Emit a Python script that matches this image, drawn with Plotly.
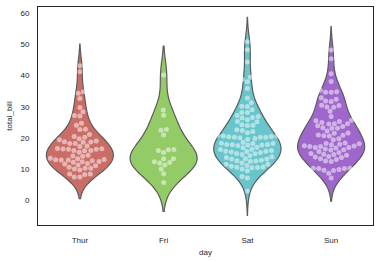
import colorsys
import numpy as np
import plotly.graph_objects as go

days = ["Thur", "Fri", "Sat", "Sun"]

thur = [27.20, 22.76, 17.29, 19.44, 16.66, 10.07, 32.68, 15.98, 34.83, 13.03, 18.28, 24.71, 21.16,
        10.65, 12.43, 24.08, 11.69, 13.42, 14.26, 15.95, 12.48, 29.80, 8.52, 14.52, 11.38, 22.82,
        19.08, 20.27, 11.17, 12.26, 18.26, 8.51, 10.33, 14.15, 16.00, 13.16, 17.47, 34.30, 41.19,
        27.05, 16.43, 8.35, 18.64, 11.87, 9.78, 7.51, 19.81, 28.44, 15.48, 16.58, 7.56, 10.34,
        43.11, 13.00, 13.51, 18.71, 12.74, 13.00, 16.40, 20.53, 16.47, 18.78]
fri = [28.97, 22.49, 5.75, 16.32, 22.75, 40.17, 27.28, 12.03, 21.01, 12.46, 11.35, 15.38,
       12.16, 13.42, 8.58, 15.98, 13.42, 16.27, 10.09]
sat = [20.65, 17.92, 20.29, 15.77, 39.42, 19.82, 17.81, 13.37, 12.69, 21.70, 19.65, 9.55, 18.35,
       15.06, 20.69, 17.78, 24.06, 16.31, 16.93, 18.69, 31.27, 16.04, 38.01, 26.41, 11.24, 48.27,
       20.29, 13.81, 11.02, 18.29, 17.59, 20.08, 16.45, 3.07, 20.23, 15.01, 12.02, 17.07, 26.86,
       25.28, 14.73, 10.51, 17.92, 44.30, 22.42, 20.92, 15.36, 20.49, 25.21, 18.24, 14.31, 14.00,
       7.25, 10.59, 10.63, 50.81, 15.81, 26.59, 38.73, 24.27, 12.76, 30.06, 25.89, 48.33, 13.27,
       28.17, 12.90, 28.15, 11.59, 7.74, 30.14, 20.45, 13.28, 22.12, 24.01, 15.69, 11.61, 10.77,
       15.53, 10.07, 12.60, 32.83, 35.83, 29.03, 27.18, 22.67, 17.82]
sun = [16.99, 10.34, 21.01, 23.68, 24.59, 25.29, 8.77, 26.88, 15.04, 14.78, 10.27, 35.26, 15.42,
       18.43, 14.83, 21.58, 10.33, 16.29, 16.97, 17.46, 13.94, 9.68, 30.40, 18.29, 22.23, 32.40,
       28.55, 18.04, 12.54, 10.29, 34.81, 9.94, 25.56, 19.49, 38.07, 23.95, 25.71, 17.31, 29.93,
       14.07, 13.13, 17.26, 24.55, 19.77, 29.85, 48.17, 25.00, 13.39, 16.49, 21.50, 12.66, 16.21,
       13.81, 17.51, 24.52, 20.76, 31.71, 7.25, 31.85, 16.82, 32.90, 17.89, 14.48, 9.60, 34.63,
       34.65, 23.33, 45.35, 23.17, 40.55, 20.69, 20.90, 30.46, 18.15, 23.10, 15.69]
series = [thur, fri, sat, sun]

y_ticks = [0, 10, 20, 30, 40, 50, 60]
Y_RANGE = [-7.8, 61.9]
X_RANGE = [-0.5, 3.5]

W, H = 380, 262
ML, MR, MT, MB = 38, 7, 7, 37
pw, ph = W - ML - MR, H - MT - MB
px_x = pw / (X_RANGE[1] - X_RANGE[0])
px_y = ph / (Y_RANGE[1] - Y_RANGE[0])


def hls_colors(n, h=0.01, l=0.6, s=0.65, sat=0.75):
    hues = (np.linspace(0, 1, n + 1)[:-1] + h) % 1
    out = []
    for hu in hues:
        r, g, b = colorsys.hls_to_rgb(hu, l, s * sat)
        out.append("rgb(%d,%d,%d)" % (round(r * 255), round(g * 255), round(b * 255)))
    return out


colors = hls_colors(4)


def beeswarm(vals, center, d):
    # pixel-space swarm
    ys = np.sort(np.asarray(vals)) * px_y
    swarm = []
    for y in ys:
        neigh = [(sx, sy) for sx, sy in swarm if abs(y - sy) < d]
        cands = [(center, y)]
        left_first = True
        for nx, ny in neigh:
            dy = y - ny
            dx = np.sqrt(max(d * d - dy * dy, 0)) * 1.05
            cl, cr = (nx - dx, y), (nx + dx, y)
            cands.extend([cl, cr] if left_first else [cr, cl])
            left_first = not left_first
        cands.sort(key=lambda c: abs(c[0] - center))
        chosen = cands[-1]
        for c in cands:
            ok = all((c[0] - nx) ** 2 + (c[1] - ny) ** 2 >= d * d * 0.999 for nx, ny in neigh)
            if ok:
                chosen = c
                break
        swarm.append(chosen)
    return [s[0] for s in swarm], [s[1] / px_y for s in swarm]


fig = go.Figure()
for i, (day, vals) in enumerate(zip(days, series)):
    v = np.asarray(vals)
    bw = v.std(ddof=1) * len(v) ** (-0.2)
    fig.add_trace(go.Violin(
        y=vals, x0=i, name=day, width=0.8, bandwidth=bw, spanmode="soft",
        scalegroup="all", scalemode="width", points=False,
        fillcolor=colors[i], opacity=1, line=dict(color="#5c5c5c", width=1.2),
        hoverinfo="skip", showlegend=False,
    ))

for i, vals in enumerate(series):
    sx, sy = beeswarm(vals, i * px_x, 5.3)
    fig.add_trace(go.Scatter(
        x=[x / px_x for x in sx], y=sy, mode="markers",
        marker=dict(color="rgba(255,255,255,0.5)", size=5, line=dict(width=0)),
        showlegend=False, hoverinfo="skip",
    ))

font = dict(family="Liberation Sans, Arial, sans-serif", size=8, color="#262626")
fig.update_layout(
    width=W, height=H, margin=dict(l=ML, r=MR, t=MT, b=MB),
    paper_bgcolor="white", plot_bgcolor="white", font=font,
    violinmode="overlay", showlegend=False,
    xaxis=dict(range=X_RANGE, tickvals=[0, 1, 2, 3], ticktext=days, showgrid=False,
               zeroline=False, showline=True, mirror=True, linecolor="#262626", linewidth=1,
               ticks="outside", ticklen=7, tickcolor="rgba(0,0,0,0)",
               title=dict(text="day", standoff=5, font=font)),
    yaxis=dict(range=Y_RANGE, tickvals=y_ticks, showgrid=False, zeroline=False,
               showline=True, mirror=True, linecolor="#262626", linewidth=1,
               ticks="outside", ticklen=6, tickcolor="rgba(0,0,0,0)",
               title=dict(text="total_bill", standoff=6, font=font)),
)
fig.write_html("out.html")
